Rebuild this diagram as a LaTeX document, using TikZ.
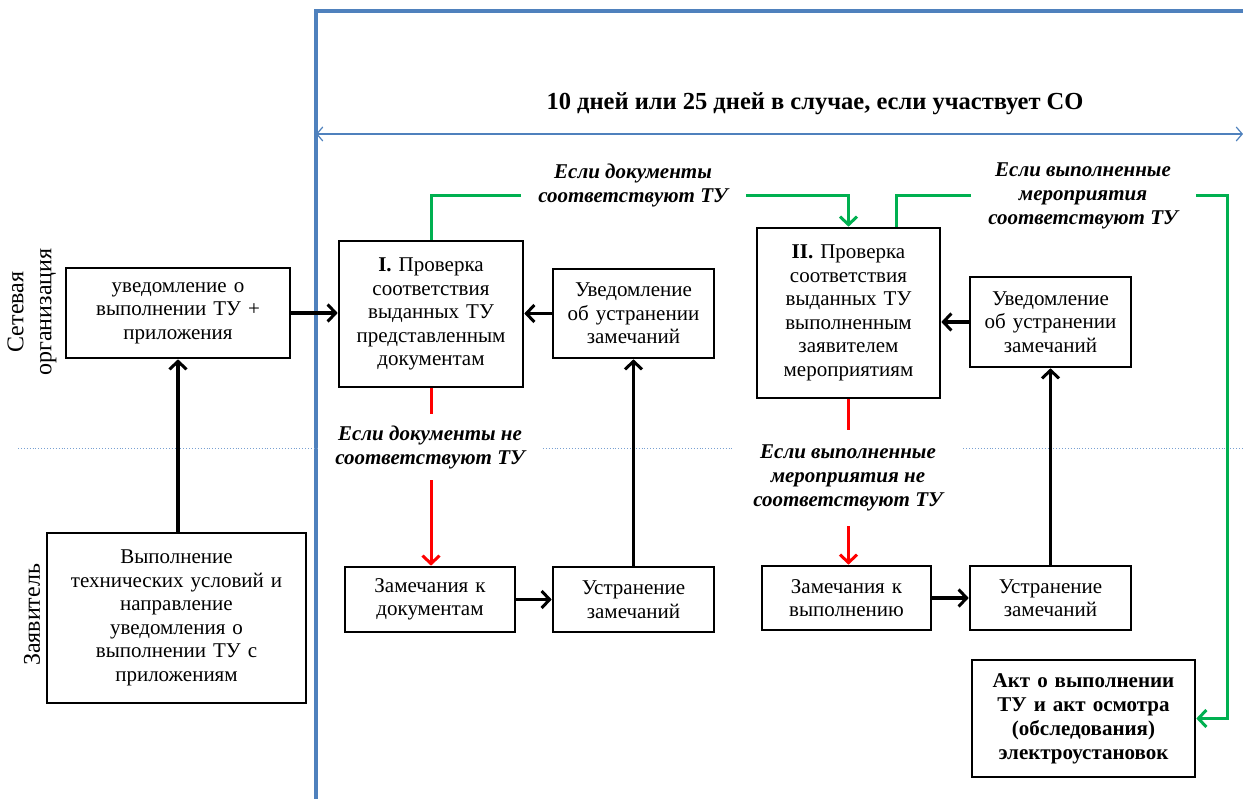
\documentclass[tikz,border=0pt]{standalone}
\usepackage{fontspec}
\setmainfont{Liberation Serif}
\usetikzlibrary{arrows.meta,calc}
\definecolor{frameblue}{RGB}{79,129,189}
\definecolor{dotblue}{RGB}{120,160,210}
\definecolor{grn}{RGB}{0,176,80}
\definecolor{rd}{RGB}{255,0,0}
\begin{document}
\begin{tikzpicture}[x=1pt,y=-1pt,
  box/.style={draw,line width=2.6pt,fill=white,align=center,inner sep=0pt,
    font=\fontsize{21}{23.5}\selectfont},
  lbl/.style={fill=white,align=center,inner sep=4pt,
    font=\fontsize{21}{24}\selectfont\bfseries\itshape},
  tip/.style={-{Straight Barb[length=8pt,width=17pt,line width=3pt]}},
  blk/.style={line width=3.2pt,tip},
  grna/.style={grn,line width=3pt,tip},
  rda/.style={rd,line width=3pt,tip},
  lane/.style={font=\fontsize{24}{28}\selectfont,align=center,rotate=90}
]
\useasboundingbox (0,0) rectangle (1243,799);
% frame
\draw[frameblue,line width=3.5pt] (316,799) -- (316,11) -- (1243,11);
\draw[dotblue,dotted,line width=0.9pt] (18,448) -- (1243,448);
\coordinate (dl) at (316,134);
\coordinate (dr) at (1243,134);
\draw[frameblue,line width=1.2pt,{Straight Barb[length=6pt,width=14pt]}-{Straight Barb[length=6pt,width=14pt]}] (dl) -- (dr);
\node[font=\fontsize{24.5}{28}\selectfont\bfseries] (title) at (815,104) {10 дней или 25 дней в случае, если участвует СО};
% lanes
\node[lane] (lane1) at (32,312) {Сетевая\\организация};
\node[lane] (lane2) at (32,615) {Заявитель};
% boxes
\node[box,minimum width=224,minimum height=90,text width=215] (A) at (178,313) {уведомление о\\выполнении ТУ +\\приложения};
\node[box,minimum width=259,minimum height=170,text width=250] (B) at (176.5,618) {Выполнение\\технических условий и\\направление\\уведомления о\\выполнении ТУ с\\приложениям};
\node[box,minimum width=184,minimum height=146,text width=180] (I) at (431,314) {\textbf{I.} Проверка\\соответствия\\выданных ТУ\\представленным\\документам};
\node[box,minimum width=161,minimum height=89,text width=155] (U1) at (633.5,313.5) {Уведомление\\об устранении\\замечаний};
\node[box,minimum width=170,minimum height=65,text width=165] (Z1) at (430,599.5) {Замечания к\\документам};
\node[box,minimum width=161,minimum height=65,text width=155] (Y1) at (633.5,599.5) {Устранение\\замечаний};
\node[box,minimum width=183,minimum height=170,text width=180] (II) at (848.5,313) {\textbf{II.} Проверка\\соответствия\\выданных ТУ\\выполненным\\заявителем\\мероприятиям};
\node[box,minimum width=161,minimum height=90,text width=155] (U2) at (1050.5,322) {Уведомление\\об устранении\\замечаний};
\node[box,minimum width=169,minimum height=64,text width=165] (Z2) at (846.5,598) {Замечания к\\выполнению};
\node[box,minimum width=161,minimum height=64,text width=155] (Y2) at (1050.5,598) {Устранение\\замечаний};
\node[box,minimum width=223,minimum height=117,text width=218,font=\fontsize{21}{24}\selectfont\bfseries] (Akt) at (1083.5,718.5) {Акт о выполнении\\ТУ и акт осмотра\\(обследования)\\электроустановок};
% black arrows
\draw[blk] (A.east) -- (A.east -| I.west);
\draw[blk] (B.north -| A.south) -- (A.south);
\draw[blk] (U1.west) -- (U1.west -| I.east);
\draw[blk] (Z1.east) -- (Z1.east -| Y1.west);
\draw[blk] (Y1.north) -- (U1.south);
\draw[blk] (U2.west) -- (U2.west -| II.east);
\draw[blk] (Z2.east) -- (Z2.east -| Y2.west);
\draw[blk] (Y2.north) -- (U2.south);
% green connectors
\coordinate (g1) at (640,196);
\coordinate (g2) at (896,196);
\coordinate (g3) at (1227,196);
\draw[grna] (I.north) |- (g1) -| (II.north);
\draw[grna] (II.north -| g2) -- (g2) -- (g3) |- (Akt.east);
% red connectors
\draw[rda] (I.south) -- (I.south |- Z1.north);
\draw[rda] (II.south) -- (II.south |- Z2.north);
% labels
\node[lbl,minimum width=225,minimum height=60] (L1) at (633,185) {Если документы\\соответствуют ТУ};
\node[lbl,minimum width=225,minimum height=90] (L2) at (1083,196) {Если выполненные\\мероприятия\\соответствуют ТУ};
\node[lbl,minimum width=224,minimum height=66] (L3) at (430,447) {Если документы не\\соответствуют ТУ};
\node[lbl,minimum width=230,minimum height=95] (L4) at (848,478) {Если выполненные\\мероприятия не\\соответствуют ТУ};
\end{tikzpicture}
\end{document}
